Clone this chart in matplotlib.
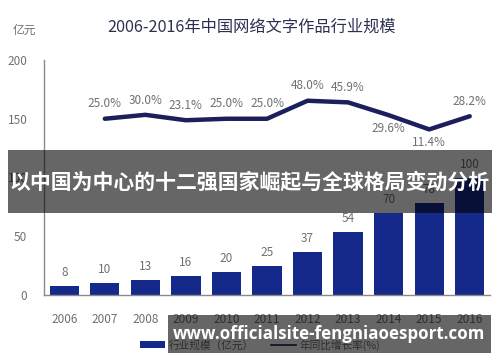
import matplotlib
matplotlib.use("Agg")
import matplotlib.pyplot as plt
from matplotlib.patches import Rectangle, Patch
from matplotlib.lines import Line2D

plt.rcParams['font.family'] = ['Noto Sans CJK SC', 'DejaVu Sans']

years = ['2006', '2007', '2008', '2009', '2010', '2011', '2012', '2013', '2014', '2015', '2016']
scale = [8, 10, 13, 16, 20, 25, 37, 54, 70, 78, 100]
growth_years = ['2007', '2008', '2009', '2010', '2011', '2012', '2013', '2014', '2015', '2016']
growth = [25.0, 30.0, 23.1, 25.0, 25.0, 48.0, 45.9, 29.6, 11.4, 28.2]
yticks = [0, 50, 100, 150, 200]

title = '2006-2016年中国网络文字作品行业规模'
unit = '亿元'
legend_bar = '行业规模（亿元）'
legend_line = '年同比增长率(%)'
banner1 = '以中国为中心的十二强国家崛起与全球格局变动分析'
banner2 = 'www.officialsite-fengniaoesport.com'

W, H = 500, 362
fig = plt.figure(figsize=(W / 100, H / 100), dpi=100)
ax = fig.add_axes([44 / W, (H - 295) / H, (490 - 44) / W, (295 - 60) / H])

bar_color = '#15298a'
line_color = '#1b1f5c'
grey = '#707070'

x = list(range(len(years)))
ax.bar(x, scale, width=0.72, color=bar_color, zorder=2)
for xi, v in zip(x, scale):
    ax.annotate(str(v), (xi, v), xytext=(0, 5), textcoords='offset points',
                ha='center', va='bottom', fontsize=8.5, color=grey)

ax.set_xlim(-0.5, len(years) - 0.5)
ax.set_ylim(0, 200)
ax.set_xticks(x)
ax.set_xticklabels(years, fontsize=8.5, color=grey)
ax.set_yticks(yticks)
ax.set_yticklabels([str(t) for t in yticks], fontsize=8.5, color=grey)
ax.tick_params(axis='both', length=0)
ax.tick_params(axis='x', pad=13)
ax.tick_params(axis='y', pad=12)
for s in ['top', 'right']:
    ax.spines[s].set_visible(False)
for s in ['left', 'bottom']:
    ax.spines[s].set_color('#8a8a8a')
    ax.spines[s].set_linewidth(1.0)

ax2 = ax.twinx()
ax2.set_ylim(-200, 100)
gx = [years.index(y) for y in growth_years]
ax2.plot(gx, growth, color=line_color, linewidth=3.2, solid_capstyle='round', zorder=3)
ax2.axis('off')
below = {'2014', '2015'}
for yr, xi, g in zip(growth_years, gx, growth):
    if yr in below:
        ax2.annotate(f'{g:.1f}%', (xi, g), xytext=(0, -5), textcoords='offset points',
                     ha='center', va='top', fontsize=8.5, color=grey)
    else:
        ax2.annotate(f'{g:.1f}%', (xi, g), xytext=(0, 6), textcoords='offset points',
                     ha='center', va='bottom', fontsize=8.5, color=grey)

fig.text(252 / W, 1 - 27 / H, title, ha='center', va='center', fontsize=11.7, color='#2b3050')
fig.text(24 / W, 1 - 30 / H, unit, ha='center', va='center', fontsize=8.5, color=grey)

handles = [Patch(facecolor=bar_color, edgecolor='none'),
           Line2D([0], [0], color=line_color, linewidth=1.2)]
fig.legend(handles, [legend_bar, legend_line], loc='center', bbox_to_anchor=(260 / W, 1 - 345 / H),
           ncol=2, frameon=False, fontsize=7.7, labelcolor=grey, handlelength=2.35,
           handleheight=0.65, columnspacing=1.6, handletextpad=0.3, borderpad=0)

# overlay banners
fig.patches.append(Rectangle((8 / W, 1 - 213 / H), (492 - 8) / W, (213 - 150) / H,
                             transform=fig.transFigure, facecolor='black', alpha=0.6,
                             edgecolor='none', zorder=10))
fig.text(250 / W, 1 - 182 / H, banner1, ha='center', va='center', fontsize=15,
         fontweight='bold', color='white', zorder=11)
fig.patches.append(Rectangle((168 / W, 1 - 353 / H), (491 - 168) / W, (353 - 315) / H,
                             transform=fig.transFigure, facecolor='black', alpha=0.6,
                             edgecolor='none', zorder=10))
fig.text(329 / W, 1 - 334 / H, banner2, ha='center', va='center', fontsize=12.2,
         fontweight='bold', color='white', family=['Open Sans', 'DejaVu Sans'], zorder=11)

fig.savefig('out.png', dpi=100)
